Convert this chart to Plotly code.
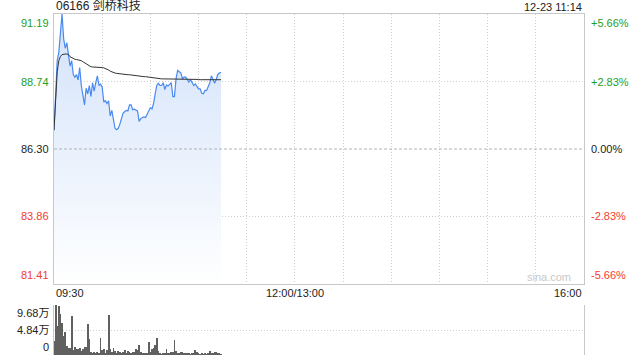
import plotly.graph_objects as go

# ---------------- data ----------------
prev_close = 86.30
price_ticks = [91.19, 88.74, 86.30, 83.86, 81.41]
pct_ticks = ["+5.66%", "+2.83%", "0.00%", "-2.83%", "-5.66%"]
vol_ticks = [96800, 48400, 0]
vol_tick_labels = ["9.68万", "4.84万", "0"]
time_tick_vals = [0, 150, 330]
time_tick_labels = ["09:30", "12:00/13:00", "16:00"]
grid_minutes = [30, 60, 90, 120, 150, 180, 210, 240, 270, 300]

minutes = list(range(105))  # minutes since 09:30 (till 11:14)

price = [86.98, 88.60, 89.50, 89.80, 90.60, 91.19, 90.30, 89.95, 90.15, 89.80,
         89.30, 89.50, 89.00, 88.90, 89.00, 88.80, 89.25, 88.60, 88.30, 87.90,
         88.50, 88.30, 88.60, 88.20, 88.70, 88.40, 88.70, 88.95, 88.60, 88.65,
         88.55, 88.00, 88.05, 87.95, 88.05, 87.50, 87.70, 87.30, 87.05, 87.00,
         87.05, 87.20, 87.40, 87.60, 87.65, 87.70, 87.68, 87.90, 87.90, 87.72,
         87.74, 87.72, 87.68, 87.30, 87.40, 87.44, 87.46, 87.44, 87.56, 87.70,
         87.80, 87.75, 87.95, 88.30, 88.60, 88.68, 88.60, 88.60, 88.70, 88.45,
         88.62, 88.58, 88.65, 88.70, 88.20, 88.20, 88.85, 89.15, 89.10, 89.05,
         88.85, 88.90, 88.90, 88.80, 88.72, 88.82, 88.70, 88.60, 88.66, 88.55,
         88.48, 88.48, 88.32, 88.30, 88.42, 88.42, 88.58, 88.70, 88.95, 88.78,
         88.68, 88.82, 89.00, 89.05, 89.08]

avg_price = [86.98, 88.30, 89.10, 89.50, 89.65, 89.72, 89.74, 89.74, 89.74, 89.72,
             89.64, 89.60, 89.57, 89.55, 89.54, 89.53, 89.52, 89.50, 89.46, 89.42,
             89.38, 89.33, 89.29, 89.28, 89.27, 89.27, 89.26, 89.26, 89.25, 89.25,
             89.25, 89.24, 89.22, 89.20, 89.16, 89.12, 89.09, 89.07, 89.05, 89.04,
             89.03, 89.02, 89.01, 89.01, 89.00, 89.00, 88.99, 88.99, 88.98, 88.98,
             88.97, 88.96, 88.95, 88.95, 88.94, 88.93, 88.92, 88.92, 88.91, 88.90,
             88.90, 88.89, 88.88, 88.87, 88.86, 88.85, 88.85, 88.84, 88.84, 88.84,
             88.84, 88.84, 88.84, 88.84, 88.83, 88.83, 88.83, 88.83, 88.83, 88.83,
             88.83, 88.83, 88.82, 88.82, 88.82, 88.82, 88.82, 88.82, 88.82, 88.82,
             88.82, 88.81, 88.81, 88.81, 88.81, 88.81, 88.81, 88.81, 88.81, 88.81,
             88.81, 88.81, 88.81, 88.81, 88.81]

volume = [28000, 96800, 56000, 94000, 79000, 62000, 37000, 45000, 17000, 13000,
          13000, 75000, 10000, 16000, 12000, 11000, 13000, 8000, 12000, 15000,
          16000, 60000, 31000, 5000, 4000, 6000, 3000, 5000, 4000, 33000,
          10000, 12000, 4000, 9000, 77000, 12000, 6000, 14000, 7000, 4000,
          8000, 5000, 3000, 6000, 9000, 4000, 7000, 5000, 3000, 6000,
          6000, 11000, 10000, 19000, 6000, 4000, 3000, 4000, 4000, 25000,
          5000, 11000, 13000, 19000, 32000, 7000, 2000, 1000, 3000, 4000,
          11000, 3000, 4000, 5000, 6000, 29000, 7000, 4000, 3000, 5000,
          6000, 3000, 2000, 2000, 3000, 1000, 2000, 2000, 10000, 5000,
          2000, 1000, 2000, 1000, 2000, 1000, 4000, 7000, 3000, 2000,
          6000, 5000, 2000, 3000, 1000]

title_text = "06166 剑桥科技"
stamp_text = "12-23 11:14"

# ---------------- styles ----------------
GREEN = "#1ea01e"
RED = "#f03c32"
BLACK = "#222222"
GRID = "#cfcfcf"
FRAME = "#c8c8c8"
GRID_DASH = "1px,2px"
FONT = "Liberation Sans, Arial, Noto Sans CJK SC, sans-serif"

fig = go.Figure()

fig.add_trace(go.Scatter(
    x=minutes, y=price, mode="lines",
    line=dict(color="#4a8af0", width=1.2),
    fill="tozeroy",
    fillgradient=dict(type="vertical", start=price_ticks[-1], stop=price_ticks[0],
                      colorscale=[[0, "rgba(255,255,255,1)"], [1, "rgba(210,226,250,1)"]]),
    hoverinfo="skip", xaxis="x", yaxis="y"))

fig.add_trace(go.Scatter(
    x=minutes, y=avg_price, mode="lines",
    line=dict(color="#333333", width=1),
    hoverinfo="skip", xaxis="x", yaxis="y"))

fig.add_trace(go.Bar(
    x=minutes, y=volume, marker=dict(color="#606060", line=dict(width=0)),
    width=0.5, hoverinfo="skip", xaxis="x2", yaxis="y2"))

fig.update_layout(
    width=640, height=360,
    margin=dict(l=54, r=56, t=14, b=5),
    paper_bgcolor="white", plot_bgcolor="rgba(0,0,0,0)",
    showlegend=False,
    font=dict(family=FONT, size=11, color=BLACK),
    xaxis=dict(domain=[0, 1], range=[0, 330], tickvals=grid_minutes,
               showticklabels=False, ticks="", showgrid=True, gridcolor=GRID,
               griddash=GRID_DASH, gridwidth=1, zeroline=False,
               showline=True, mirror=True, linecolor=FRAME, linewidth=1,
               anchor="y"),
    yaxis=dict(domain=[0.2082, 1], range=[price_ticks[-1], price_ticks[0]],
               tickvals=[price_ticks[1], price_ticks[3]], showticklabels=False,
               ticks="", showgrid=True, gridcolor=GRID, griddash=GRID_DASH,
               zeroline=False, showline=True, mirror=True, linecolor=FRAME,
               linewidth=1, anchor="x"),
    xaxis2=dict(domain=[0, 1], range=[0, 330], showticklabels=False, ticks="",
                showgrid=False, zeroline=False, showline=False, anchor="y2"),
    yaxis2=dict(domain=[0, 0.1466], range=[0, vol_ticks[0]], tickvals=vol_ticks,
                showticklabels=False, ticks="", showgrid=True, gridcolor=GRID,
                griddash=GRID_DASH, zeroline=False, showline=True, mirror=True,
                linecolor=FRAME, linewidth=1, anchor="x2"),
    bargap=0,
)

# zero (previous close) dashed line
fig.add_shape(type="line", xref="x domain", yref="y", x0=0, x1=1,
              y0=prev_close, y1=prev_close,
              line=dict(color="#b4b4b4", width=1, dash="3px,2px"))

ann = []
colors = [GREEN, GREEN, BLACK, RED, RED]
for i, (v, pt, c) in enumerate(zip(price_ticks, pct_ticks, colors)):
    yanchor = "top" if i == 0 else ("bottom" if i == len(price_ticks) - 1 else "middle")
    ys = -1 if i == 0 else (1 if i == len(price_ticks) - 1 else 0)
    ann.append(dict(xref="paper", yref="y", x=0, y=v, text=f"{v:.2f}",
                    xanchor="right", yanchor=yanchor, xshift=-3, yshift=ys,
                    showarrow=False, font=dict(color=c, size=11, family=FONT)))
    ann.append(dict(xref="paper", yref="y", x=1, y=v, text=pt,
                    xanchor="left", yanchor=yanchor, xshift=5, yshift=ys,
                    showarrow=False, font=dict(color=c, size=11, family=FONT)))

for i, (v, t) in enumerate(zip(vol_ticks, vol_tick_labels)):
    yanchor = "top" if i == 0 else ("bottom" if i == len(vol_ticks) - 1 else "middle")
    ann.append(dict(xref="paper", yref="y2", x=0, y=v, text=t,
                    xanchor="right", yanchor=yanchor, xshift=-3,
                    showarrow=False, font=dict(color=BLACK, size=11, family=FONT)))

t_anchor = ["left", "center", "right"]
for v, t, a in zip(time_tick_vals, time_tick_labels, t_anchor):
    ann.append(dict(xref="x", yref="paper", x=v, y=0.2082, text=t,
                    xanchor=a, yanchor="top", yshift=-1,
                    showarrow=False, font=dict(color=BLACK, size=11, family=FONT)))

ann.append(dict(xref="paper", yref="paper", x=0, y=1, text=title_text,
                xanchor="left", yanchor="bottom", xshift=0, yshift=-1,
                showarrow=False, font=dict(color=BLACK, size=12, family=FONT)))
ann.append(dict(xref="paper", yref="paper", x=1, y=1, text=stamp_text,
                xanchor="right", yanchor="bottom", yshift=-1,
                showarrow=False, font=dict(color=BLACK, size=11, family=FONT)))
ann.append(dict(xref="paper", yref="y", x=1, y=price_ticks[-1], text="sina.com",
                xanchor="right", yanchor="bottom", xshift=-11, yshift=-1,
                showarrow=False, font=dict(color="#c8c8c8", size=11, family=FONT)))

fig.update_layout(annotations=ann)

fig.write_html("out.html")
